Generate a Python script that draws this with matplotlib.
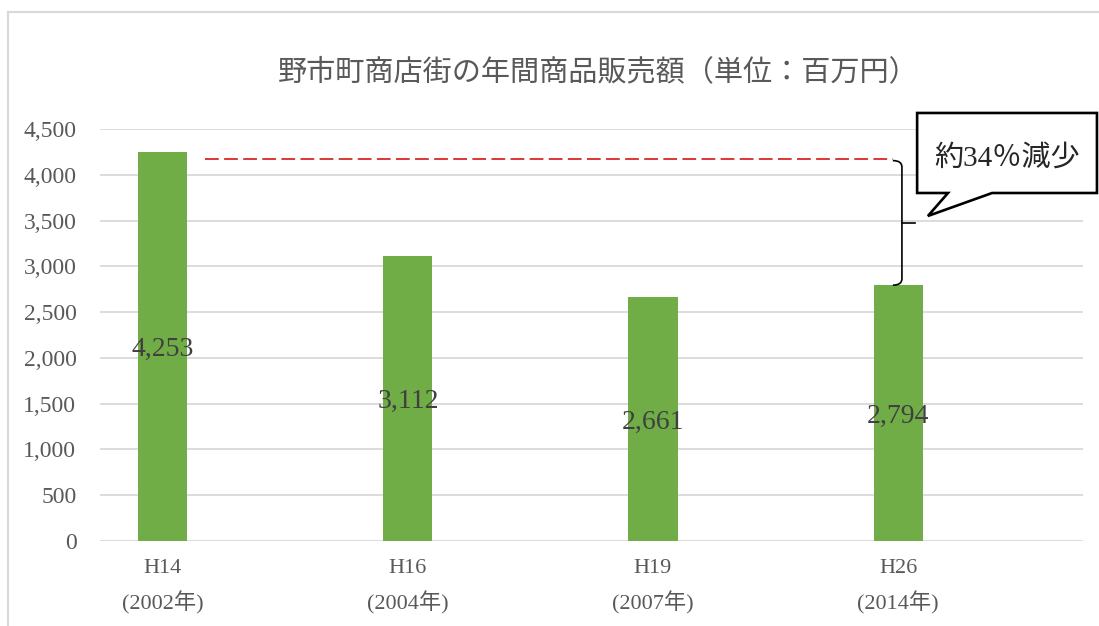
import numpy as np
import matplotlib.pyplot as plt
from matplotlib.patches import Polygon, PathPatch
from matplotlib.path import Path
from matplotlib.lines import Line2D
from matplotlib.ticker import FuncFormatter

plt.rcParams['font.family'] = ['Liberation Serif', 'Noto Sans CJK JP']

# ---- data ----
eras = ['H14', 'H16', 'H19', 'H26']
years = ['2002年', '2004年', '2007年', '2014年']
sales = [4253, 3112, 2661, 2794]
ref_level = 4175          # red dashed guide
title = '野市町商店街の年間商品販売額（単位：百万円）'
callout = '約34％減少'

bar_color = '#70ad47'
grid_color = '#d9d9d9'
text_gray = '#595959'

fig = plt.figure(figsize=(10.99, 6.26), dpi=100)
ax = fig.add_axes([100 / 1099, 1 - 541 / 626, 983 / 1099, 412 / 626])

x = np.arange(len(sales))
ax.bar(x, sales, width=0.2, color=bar_color, zorder=3)

# data labels in the middle of each bar
for xi, v in zip(x, sales):
    ax.text(xi, v / 2, f'{v:,}', ha='center', va='center_baseline',
            fontsize=20, color='#404040', zorder=4)

ax.set_xlim(-0.257, 3.755)
ax.set_ylim(0, 4500)
ax.set_yticks(np.arange(0, 4501, 500))
ax.yaxis.set_major_formatter(FuncFormatter(lambda v, p: f'{int(v):,}'))
ax.set_xticks(x)
ax.set_xticklabels([f'{e}\n({y})' for e, y in zip(eras, years)])
for lbl in ax.get_xticklabels():
    lbl.set_linespacing(1.7)

ax.tick_params(axis='y', length=0, pad=17, labelsize=17, labelcolor=text_gray)
ax.tick_params(axis='x', length=0, pad=13, labelsize=16, labelcolor=text_gray)
ax.grid(axis='y', color=grid_color, lw=1.3, zorder=0)
for s in ax.spines.values():
    s.set_visible(False)

# red dashed reference line from bar 1 to the brace
ax.plot([0.17, 2.98], [ref_level, ref_level], color='#d40000', lw=1.1,
        dashes=(9, 3.5), zorder=5)

# brace between ref level and last bar
xb = 3.016
top, bot = ref_level - 20, sales[3]
mid = (top + bot) / 2
verts = [(xb - 0.037, top), (xb, top), (xb, top - 70),
         (xb, bot + 70), (xb, bot), (xb - 0.037, bot)]
codes = [Path.MOVETO, Path.CURVE3, Path.CURVE3,
         Path.LINETO, Path.CURVE3, Path.CURVE3]
ax.add_patch(PathPatch(Path(verts, codes), fc='none', ec='black', lw=1.2,
                       zorder=5, clip_on=False))
ax.add_line(Line2D([xb, xb + 0.053], [mid, mid], color='black', lw=1.2,
                   zorder=5, clip_on=False))

# callout box
x0, x1, y0, y1 = 3.078, 3.812, 3801, 4675
box = [(x0, y1), (x1, y1), (x1, y0), (3.384, y0), (3.122, 3550),
       (3.204, y0), (x0, y0)]
ax.add_patch(Polygon(box, closed=True, fc='white', ec='black', lw=1.9,
                     joinstyle='miter', zorder=6, clip_on=False))
ax.text((x0 + x1) / 2, 4185, callout, ha='center', va='center',
        fontsize=21, color='#262626', zorder=7)

fig.text(598 / 1099, 1 - 72 / 626, title, ha='center', va='center',
         fontsize=21, color=text_gray, family=['Noto Sans CJK JP'])

# chart area border (top and left visible)
fig.add_artist(Line2D([7.5 / 1099, 1], [1 - 12 / 626, 1 - 12 / 626],
                      transform=fig.transFigure, color=grid_color, lw=1.5))
fig.add_artist(Line2D([7.5 / 1099, 7.5 / 1099], [0, 1 - 12 / 626],
                      transform=fig.transFigure, color=grid_color, lw=1.5))

fig.savefig('out.png', dpi=100)
